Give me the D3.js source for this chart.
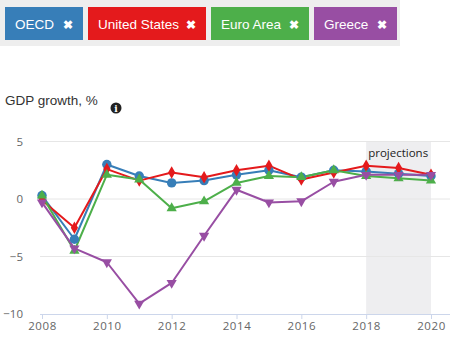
<!DOCTYPE html>
<html>
<head>
<meta charset="utf-8">
<script src="https://cdn.jsdelivr.net/npm/d3@7"></script>
<style>
  body { margin: 0; background: #fff; font-family: "Liberation Sans", Arial, sans-serif; }
</style>
</head>
<body>
<div id="chart-area"></div>
<script>
// ---------- data ----------
const years = [2008, 2009, 2010, 2011, 2012, 2013, 2014, 2015, 2016, 2017, 2018, 2019, 2020];
const oecd = [0.3, -3.5, 3.0, 2.0, 1.4, 1.6, 2.1, 2.5, 1.9, 2.5, 2.4, 2.2, 2.0];
const unitedStates = [-0.1, -2.5, 2.6, 1.6, 2.3, 1.9, 2.5, 2.9, 1.7, 2.3, 2.9, 2.7, 2.1];
const euroArea = [0.3, -4.5, 2.1, 1.7, -0.8, -0.2, 1.4, 2.0, 1.9, 2.5, 2.0, 1.8, 1.6];
const greece = [-0.3, -4.3, -5.5, -9.1, -7.3, -3.2, 0.8, -0.3, -0.2, 1.5, 2.1, 2.1, 2.1];
const seriesNames = ["OECD", "United States", "Euro Area", "Greece"];
const yTicks = [-10, -5, 0, 5];
const xTicks = [2008, 2010, 2012, 2014, 2016, 2018, 2020];
const projection = [2018, 2020];

const colors = ["#377eb8", "#e41a1c", "#4daf4a", "#984ea3"];
const symbols = [d3.symbolCircle, d3.symbolDiamond, d3.symbolTriangle, d3.symbolTriangle];
const series = [oecd, unitedStates, euroArea, greece].map((vals, i) => ({
  name: seriesNames[i], values: vals, color: colors[i], symbol: symbols[i], flip: i === 3
}));

let W = 463, H = 358;
let svg = d3.select("#chart-area").append("svg")
  .attr("width", W).attr("height", H)
  .style("display", "block");

// ---------- legend buttons ----------
svg.append("rect").attr("x", 0).attr("y", 0).attr("width", 400).attr("height", 46).attr("fill", "#eeeeee");
let btnX = [5, 88, 211, 314];
let btnW = [78, 118, 98, 83];
series.forEach((s, i) => {
  let g = svg.append("g").attr("transform", `translate(${btnX[i]}, 7)`);
  g.append("rect").attr("width", btnW[i]).attr("height", 33).attr("fill", s.color);
  g.append("text")
    .attr("x", 10).attr("y", 21.5)
    .attr("fill", "#fff").attr("font-size", "13.5px")
    .text(s.name);
  g.append("text")
    .attr("x", btnW[i] - 15).attr("y", 22)
    .attr("fill", "#fff").attr("font-size", "12px").attr("font-weight", "bold")
    .attr("text-anchor", "middle")
    .text("✖");
});

// ---------- title ----------
svg.append("text")
  .attr("x", 5).attr("y", 105)
  .attr("font-size", "13.5px").attr("fill", "#333")
  .text("GDP growth, %");
svg.append("circle").attr("cx", 116).attr("cy", 108).attr("r", 5.5).attr("fill", "#222");
svg.append("text").attr("x", 116).attr("y", 112)
  .attr("text-anchor", "middle").attr("font-size", "9px").attr("font-weight", "bold")
  .attr("font-family", "DejaVu Serif").attr("fill", "#fff").text("i");

// ---------- scales ----------
let x = d3.scaleLinear().domain([2008, 2020]).range([42, 431]);
let y = d3.scaleLinear().domain([-10, 5]).range([314, 141.5]);

// projection band
svg.append("rect")
  .attr("x", x(projection[0])).attr("y", y(5))
  .attr("width", x(projection[1]) - x(projection[0]))
  .attr("height", y(-10) - y(5))
  .attr("fill", "#eeeef0");
svg.append("text")
  .attr("x", x(projection[0]) + 2).attr("y", 157)
  .attr("font-size", "11.5px").attr("fill", "#222")
  .attr("font-family", "Open Sans, sans-serif")
  .text("projections");

// gridlines
svg.append("g").selectAll("line")
  .data(yTicks.filter(t => t !== -10))
  .join("line")
  .attr("x1", 40).attr("x2", 450)
  .attr("y1", d => y(d)).attr("y2", d => y(d))
  .attr("stroke", "#e6e6e6");

// y axis
let yAxis = d3.axisLeft(y).tickValues(yTicks).tickSize(0).tickPadding(0);
let yg = svg.append("g").attr("transform", "translate(23, 0)").call(yAxis);
yg.select(".domain").remove();
yg.selectAll("text")
  .attr("font-size", "11.5px").attr("fill", "#666")
  .attr("font-family", "Open Sans, sans-serif")
  .text(d => d < 0 ? "\u2212" + Math.abs(d) : d);

// x axis
let xAxis = d3.axisBottom(x).tickValues(xTicks).tickFormat(d3.format("d")).tickSize(5).tickPadding(3);
let xg = svg.append("g").attr("transform", `translate(0, ${y(-10)})`).call(xAxis);
xg.select(".domain").attr("d", "M40,0.5H450").attr("stroke", "#ccd6eb");
xg.selectAll(".tick line").attr("stroke", "#ccd6eb");
xg.selectAll("text")
  .attr("font-size", "11.5px").attr("fill", "#666")
  .attr("font-family", "Open Sans, sans-serif")
  .attr("letter-spacing", "0.6px");

// ---------- lines ----------
let line = d3.line().x((d, i) => x(years[i])).y(d => y(d));
series.forEach(s => {
  svg.append("path")
    .datum(s.values)
    .attr("d", line)
    .attr("fill", "none")
    .attr("stroke", s.color)
    .attr("stroke-width", 2)
    .attr("stroke-linejoin", "round");
});
series.forEach(s => {
  let size = s.symbol === d3.symbolCircle ? 70 : 45;
  svg.append("g").selectAll("path")
    .data(s.values)
    .join("path")
    .attr("d", d3.symbol().type(s.symbol).size(size))
    .attr("transform", (d, i) => `translate(${x(years[i])}, ${y(d)})${s.flip ? " rotate(180)" : ""}`)
    .attr("fill", s.color);
});
</script>
</body>
</html>
